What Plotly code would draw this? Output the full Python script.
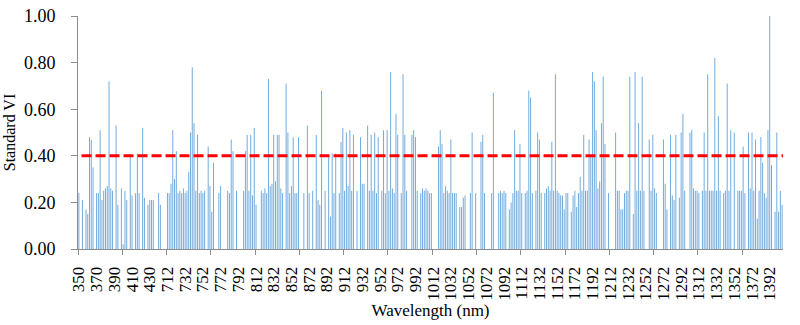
import plotly.graph_objects as go

# Wavelength categories (nm): two spectral segments
WL_VIS = list(range(350, 450, 2))
WL_NIR = list(range(712, 1408, 2))
wavelengths = WL_VIS + WL_NIR

# Standard VI values (one per wavelength, 0 = no bar)
standard_vi = [
    0.24, 0, 0.21, 0, 0.17, 0.15, 0.48, 0.47, 0.35, 0,
    0.24, 0.24, 0.51, 0.21, 0.25, 0.26, 0.27, 0.72, 0.26, 0.25,
    0, 0.53, 0.19, 0, 0.26, 0.02, 0.25, 0.21, 0, 0.40,
    0.23, 0, 0.24, 0.41, 0.24, 0, 0.52, 0.22, 0, 0.19,
    0.21, 0.21, 0.21, 0, 0, 0.24, 0.19, 0, 0, 0,
    0.24, 0.24, 0.28, 0.51, 0.30, 0.42, 0.24, 0.25, 0.24, 0.26,
    0.24, 0.25, 0.33, 0.50, 0.78, 0.54, 0.25, 0.49, 0.24, 0.25,
    0.24, 0.25, 0, 0.44, 0.27, 0.16, 0.37, 0, 0, 0.24,
    0.27, 0, 0, 0, 0.25, 0.24, 0.47, 0.42, 0, 0.25,
    0, 0, 0, 0.25, 0.42, 0.49, 0.25, 0.49, 0.23, 0.52,
    0.19, 0, 0, 0.25, 0.24, 0.26, 0.24, 0.73, 0.27, 0.28,
    0.49, 0.29, 0.49, 0.49, 0.26, 0.24, 0, 0.71, 0.50, 0.24,
    0.27, 0.48, 0.24, 0.24, 0.48, 0, 0, 0.24, 0, 0.53,
    0.24, 0, 0.25, 0, 0.49, 0.21, 0.19, 0.68, 0, 0.25,
    0, 0.40, 0.14, 0.41, 0.24, 0.41, 0, 0.24, 0.46, 0.52,
    0.25, 0.50, 0.27, 0.51, 0.25, 0.49, 0, 0.25, 0, 0.48,
    0.28, 0.28, 0, 0.53, 0.25, 0.49, 0.25, 0.50, 0.24, 0.48,
    0, 0.25, 0.51, 0.24, 0.51, 0.25, 0.76, 0.26, 0.24, 0.58,
    0.49, 0, 0.24, 0.75, 0.49, 0.25, 0, 0, 0.49, 0.51,
    0.48, 0.25, 0, 0.24, 0.26, 0.25, 0.26, 0.25, 0.24, 0.24,
    0, 0, 0, 0.44, 0.51, 0.45, 0.24, 0.27, 0.25, 0.24,
    0.47, 0.24, 0.24, 0.24, 0, 0.18, 0.18, 0.22, 0.23, 0,
    0, 0.24, 0.50, 0, 0.24, 0, 0, 0.46, 0.49, 0.24,
    0, 0, 0, 0.24, 0.67, 0, 0, 0.24, 0.25, 0.24,
    0.25, 0.24, 0, 0.17, 0.20, 0.24, 0.51, 0.25, 0.25, 0.45,
    0.24, 0, 0.24, 0.25, 0.68, 0.65, 0.24, 0, 0.25, 0.50,
    0.47, 0.24, 0, 0.24, 0.26, 0.27, 0.25, 0.46, 0.25, 0.75,
    0.25, 0.24, 0.23, 0.23, 0.17, 0.24, 0.24, 0, 0.16, 0.23,
    0.25, 0.18, 0.24, 0.31, 0.25, 0.49, 0.25, 0.25, 0.47, 0.40,
    0.76, 0.72, 0.51, 0.26, 0.29, 0.54, 0.74, 0.45, 0, 0.24,
    0, 0, 0, 0.50, 0.25, 0.25, 0.17, 0.17, 0.24, 0.25,
    0.25, 0.74, 0, 0.15, 0.76, 0.25, 0.54, 0.25, 0.74, 0.25,
    0, 0, 0.47, 0.25, 0.49, 0.26, 0.24, 0, 0, 0,
    0.47, 0.28, 0.17, 0, 0.49, 0.23, 0.21, 0.49, 0, 0.22,
    0.50, 0.58, 0.25, 0, 0, 0.50, 0.51, 0.26, 0.25, 0.25,
    0.24, 0, 0.25, 0.50, 0.25, 0.75, 0.25, 0.25, 0.25, 0.82,
    0.25, 0.57, 0.25, 0, 0.24, 0.25, 0.71, 0.25, 0.51, 0,
    0.50, 0, 0.25, 0.25, 0.25, 0.44, 0.24, 0, 0.50, 0.26,
    0.50, 0.25, 0.47, 0.13, 0.25, 0.48, 0.37, 0.24, 0.22, 0.51,
    1.00, 0.36, 0, 0.16, 0.50, 0.16, 0.25, 0.19,
]

THRESHOLD = 0.40
LABEL_EVERY = 10
TICKMARK_EVERY = 25
Y_TICKS = [0.0, 0.2, 0.4, 0.6, 0.8, 1.0]

positions = list(range(len(wavelengths)))
label_pos = positions[::LABEL_EVERY]
label_txt = [str(wavelengths[i]) for i in label_pos]
mark_pos = [i - 0.5 for i in range(0, len(wavelengths) + 1, TICKMARK_EVERY)]

# Very thin bars: each drawn as a 1px stick from 0 to its value
stick_x, stick_y = [], []
for p, v in zip(positions, standard_vi):
    if v > 0:
        stick_x += [p, p, None]
        stick_y += [0, v, None]

FONT = "Liberation Serif"
AXIS_COLOR = "#8c8c8c"

fig = go.Figure()
fig.add_trace(go.Scatter(
    x=stick_x, y=stick_y, mode="lines",
    line=dict(color="#72abdd", width=1),
    hoverinfo="skip",
))

fig.add_shape(type="line", xref="x domain", x0=0.005, x1=1, yref="y",
              y0=THRESHOLD, y1=THRESHOLD,
              line=dict(color="#ff0000", width=3, dash="10px,4px"))

fig.update_layout(
    width=800, height=325,
    margin=dict(l=78, r=17, t=16, b=76),
    paper_bgcolor="white", plot_bgcolor="white",
    showlegend=False,
    font=dict(family=FONT, size=17, color="#000000"),
)
fig.update_xaxes(
    automargin=False,
    range=[-0.5, len(wavelengths) - 0.5],
    tickmode="array", tickvals=label_pos, ticktext=label_txt,
    tickangle=-90, ticks="outside", ticklen=10, tickcolor="rgba(0,0,0,0)",
    tickfont=dict(family=FONT, size=17),
    minor=dict(tickmode="array", tickvals=mark_pos, ticks="outside",
               ticklen=5, tickcolor=AXIS_COLOR, showgrid=False),
    showline=True, linecolor=AXIS_COLOR, linewidth=1,
    showgrid=False, zeroline=False,
    title=dict(text="Wavelength (nm)", font=dict(family=FONT, size=17), standoff=0),
)
fig.update_yaxes(
    automargin=False,
    range=[0, 1.0], tickmode="array", tickvals=Y_TICKS,
    tickformat=".2f", ticks="outside", ticklen=6, tickcolor=AXIS_COLOR,
    ticklabelstandoff=12,
    tickfont=dict(family=FONT, size=18),
    showline=True, linecolor=AXIS_COLOR, linewidth=1,
    showgrid=False, zeroline=False,
    title=dict(text="Standard VI", font=dict(family=FONT, size=16), standoff=4),
)

fig.write_html(
    "out.html",
    config={"displayModeBar": False},
    post_script="document.body.style.margin='0';document.body.style.overflow='hidden';",
)
